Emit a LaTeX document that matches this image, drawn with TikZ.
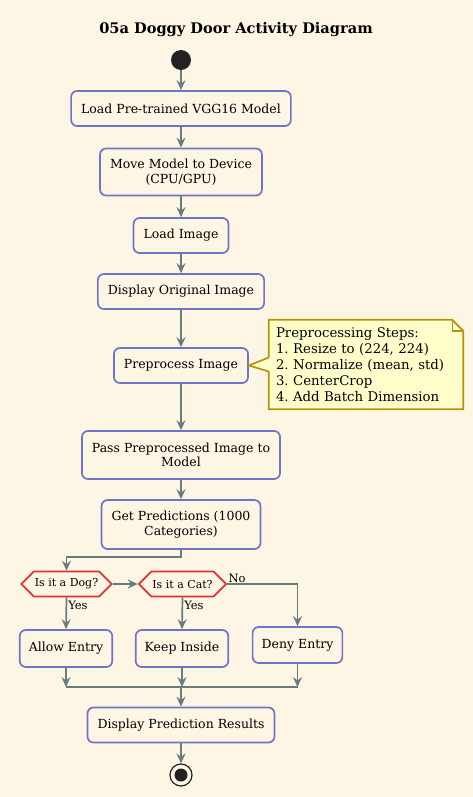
\documentclass[tikz,border=0pt]{standalone}
\usepackage{fontspec}
\setmainfont{DejaVu Serif}
\frenchspacing
\usetikzlibrary{arrows.meta, positioning, shapes.symbols, calc}
\definecolor{bgCream}{HTML}{FEF6E4}
\definecolor{actBlue}{HTML}{6F74C6}
\definecolor{flowGray}{HTML}{687B80}
\definecolor{decRed}{HTML}{DC3535}
\definecolor{noteFill}{HTML}{FFFFCC}
\definecolor{noteEdge}{HTML}{B8920A}
\definecolor{dotBlack}{HTML}{222222}

\begin{document}
\begin{tikzpicture}[x=1pt, y=-1pt,
    act/.style={draw=actBlue, line width=1.7pt, rounded corners=6pt, fill=bgCream,
      inner xsep=10pt, minimum height=35pt, align=center, font=\fontsize{12.5}{14.5}\selectfont},
    dec/.style={signal, signal to=west and east, signal pointer angle=90, draw=decRed,
      line width=1.7pt, fill=bgCream, minimum height=25pt, inner xsep=1pt,
      font=\fontsize{11}{12}\selectfont},
    flow/.style={draw=flowGray, line width=1.7pt, -{Stealth[length=10pt, width=9pt, inset=3.5pt]}},
    link/.style={draw=flowGray, line width=1.7pt},
    lbl/.style={font=\fontsize{11.5}{13}\selectfont, inner sep=1pt}]
  \fill[bgCream] (0,0) rectangle (473,797);
  \useasboundingbox (0,0) rectangle (473,797);

  % title and start
  \node[font=\bfseries\fontsize{14.6}{16}\selectfont] (title) at (236,30) {05a Doggy Door Activity Diagram};
  \node[circle, fill=dotBlack, minimum size=20pt, inner sep=0pt] (start) at (181,60) {};

  % actions
  \node[act] (loadModel)  at (181,108.5) {Load Pre-trained VGG16 Model};
  \node[act, minimum height=47pt] (toDevice) at (181,172) {Move Model to Device\\(CPU/GPU)};
  \node[act] (loadImage)  at (181,235.5) {Load Image};
  \node[act] (showImage)  at (181,291.5) {Display Original Image};
  \node[act] (preprocess) at (181,365.5) {Preprocess Image};
  \node[act, minimum height=48pt] (passModel) at (181,455) {Pass Preprocessed Image to\\Model};
  \node[act, minimum height=49pt] (predict)   at (181,524.5) {Get Predictions (1000\\Categories)};

  % note
  \node[align=left, text width=180pt, inner xsep=7pt, minimum height=89pt,
    font=\fontsize{13.3}{16}\selectfont] (note) at (366,364.5)
    {Preprocessing Steps:\\1. Resize to (224, 224)\\2. Normalize (mean, std)\\3. CenterCrop\\4. Add Batch Dimension};
  \draw[noteEdge, fill=noteFill, line width=1.7pt, line join=miter]
    (note.north west) -- ($(note.north east)+(-11,0)$) -- ($(note.north east)+(0,11)$)
    -- (note.south east) -- (note.south west) -- ($(note.west)+(0,7)$)
    -- (preprocess.east) -- ($(note.west)+(0,-7)$) -- cycle;
  \draw[noteEdge, line width=1.4pt] ($(note.north east)+(-11,0)$) -- ($(note.north east)+(-11,11)$)
    -- ($(note.north east)+(0,11)$);
  \node[align=left, text width=180pt, inner xsep=7pt, font=\fontsize{13.3}{16}\selectfont]
    (noteText) at (note.center)
    {Preprocessing Steps:\\1. Resize to (224, 224)\\2. Normalize (mean, std)\\3. CenterCrop\\4. Add Batch Dimension};

  % decisions
  \node[dec] (dog) at (66.5,584) {Is it a Dog?};
  \node[dec] (cat) at (182.5,584) {Is it a Cat?};
  \node[act, inner xsep=9pt, minimum height=37pt] (allow) at (66,648.5) {Allow Entry};
  \node[act, inner xsep=9pt, minimum height=37pt] (keep)  at (182,648.5) {Keep Inside};
  \node[act, inner xsep=9pt, minimum height=36pt] (deny)  at (297.5,645) {Deny Entry};
  \node[act] (results) at (181,725) {Display Prediction Results};

  % end
  \node[circle, draw=dotBlack, line width=1.2pt, fill=bgCream, minimum size=22pt, inner sep=0pt] (stop) at (181,775) {};
  \node[circle, fill=dotBlack, minimum size=13pt, inner sep=0pt] (stopDot) at (stop.center) {};

  % merge points
  \coordinate (mergeL) at (66,687);
  \coordinate (mergeM) at (181,687);
  \coordinate (mergeR) at (297.5,687);

  % connectors
  \draw[flow] (start) -- (loadModel);
  \draw[flow] (loadModel) -- (toDevice);
  \draw[flow] (toDevice) -- (loadImage);
  \draw[flow] (loadImage) -- (showImage);
  \draw[flow] (showImage) -- (preprocess);
  \draw[flow] (preprocess) -- (passModel);
  \draw[flow] (passModel) -- (predict);
  \draw[flow] (predict.south) -- ++(0,7) -| (dog.north);
  \draw[flow] (dog.east) -- (cat.west);
  \draw[flow] (dog.south) -- node[lbl, anchor=north west, pos=0.05] (yesDog) {Yes} (allow.north);
  \draw[flow] (cat.south) -- node[lbl, anchor=north west, pos=0.05] (yesCat) {Yes} (keep.north);
  \draw[flow] (cat.east) -| (deny.north);
  \node[lbl, anchor=south west] (noCat) at (cat.east) {No};
  \draw[flow] (allow.south) -- (mergeL);
  \draw[flow] (keep.south) -- (keep.south |- mergeM);
  \draw[flow] (deny.south) -- (mergeR);
  \draw[link] (mergeL) -- (mergeR);
  \draw[flow] (mergeM) -- (results);
  \draw[flow] (results) -- (stop);
\end{tikzpicture}
\end{document}
